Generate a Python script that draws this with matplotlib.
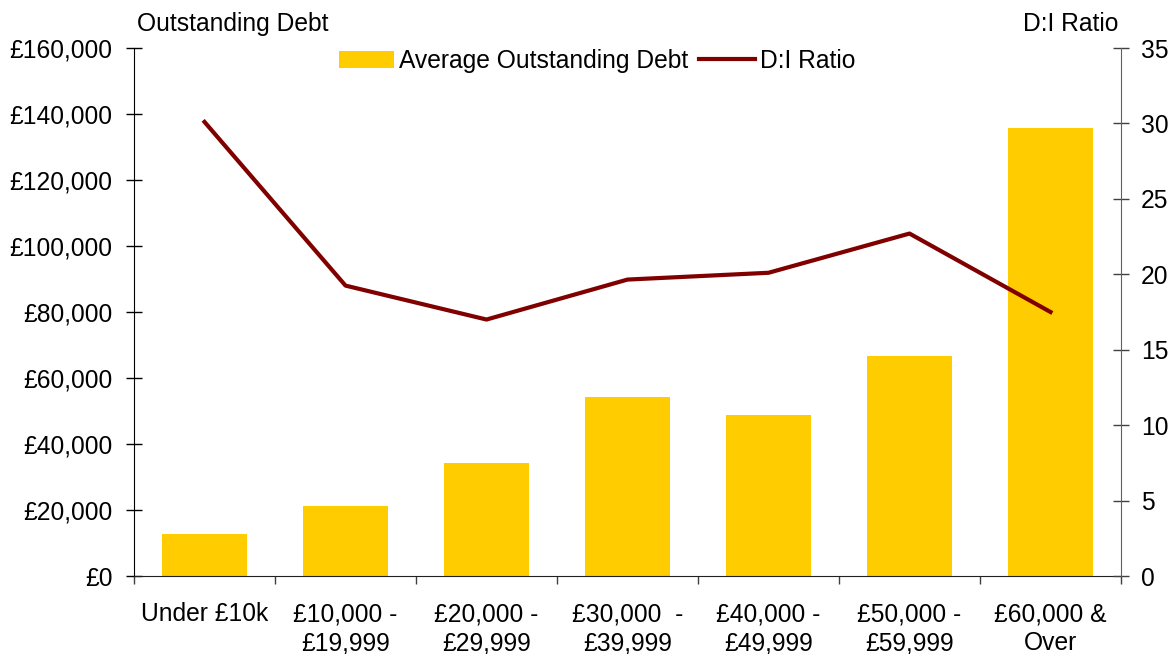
import numpy as np
import matplotlib
matplotlib.use("Agg")
import matplotlib.pyplot as plt
from matplotlib.ticker import FuncFormatter, MultipleLocator

plt.rcParams["font.family"] = ["Liberation Sans", "DejaVu Sans"]

categories = ["Under £10k", "£10,000 -\n£19,999", "£20,000 -\n£29,999", "£30,000  -\n£39,999",
              "£40,000 -\n£49,999", "£50,000 -\n£59,999", "£60,000 &\nOver"]
avg_debt = [12700, 21200, 34200, 54100, 48700, 66800, 135800]
di_ratio = [30.1, 19.25, 17.0, 19.65, 20.1, 22.7, 17.5]

fs = 17.7
_fig = plt.figure(figsize=(11.76, 6.54), dpi=100)
_ax1 = _fig.add_axes([134 / 1176, 1 - 576 / 654, (1121 - 134) / 1176, (576 - 48) / 654])
_ax2 = _ax1.twinx()

_x = np.arange(len(categories))
_bars = _ax1.bar(_x, avg_debt, width=0.6, color="#FFCC00", label="Average Outstanding Debt", zorder=2)
_line, = _ax2.plot(_x, di_ratio, color="#800000", lw=3, label="D:I Ratio", zorder=3)

_ax1.set_xlim(-0.5, len(categories) - 0.5)
_ax1.set_ylim(0, 160000)
_ax2.set_ylim(0, 35)
_ax1.yaxis.set_major_locator(MultipleLocator(20000))
_ax1.yaxis.set_major_formatter(FuncFormatter(lambda v, p: "£{:,.0f}".format(v)))
_ax2.yaxis.set_major_locator(MultipleLocator(5))

_ax1.set_xticks(_x)
_ax1.set_xticklabels(categories, fontsize=fs, linespacing=1.25)
_ax1.set_xticks(np.arange(len(categories) + 1) - 0.5, minor=True)
_ax1.tick_params(axis="x", which="major", length=0, pad=19)
_ax1.tick_params(axis="x", which="minor", length=6, width=1, direction="out", color="#404040")
_ax1.tick_params(axis="y", direction="inout", length=11, width=1, labelsize=fs, pad=10)
_ax2.tick_params(axis="y", direction="inout", length=11, width=1, labelsize=fs, pad=9, color="#404040")

for _a in (_ax1, _ax2):
	_a.spines["top"].set_visible(False)
_ax1.spines["right"].set_visible(False)
_ax2.spines["left"].set_visible(False)
_ax2.spines["bottom"].set_visible(False)
_ax2.spines["right"].set_color("#606060")
_ax1.spines["bottom"].set_color("#202020")

_fig.text(137 / 1176, 1 - 31 / 654, "Outstanding Debt", fontsize=fs, ha="left", va="baseline")
_fig.text(1118 / 1176, 1 - 31 / 654, "D:I Ratio", fontsize=fs, ha="right", va="baseline")

_fig.legend([_bars, _line], ["Average Outstanding Debt", "D:I Ratio"], loc="center",
	bbox_to_anchor=(597 / 1176, 1 - 61 / 654), ncol=2, frameon=False, fontsize=fs,
	handlelength=2.25, handletextpad=0.2, columnspacing=0.45, borderpad=0)

_fig.savefig("out.png", dpi=100)
